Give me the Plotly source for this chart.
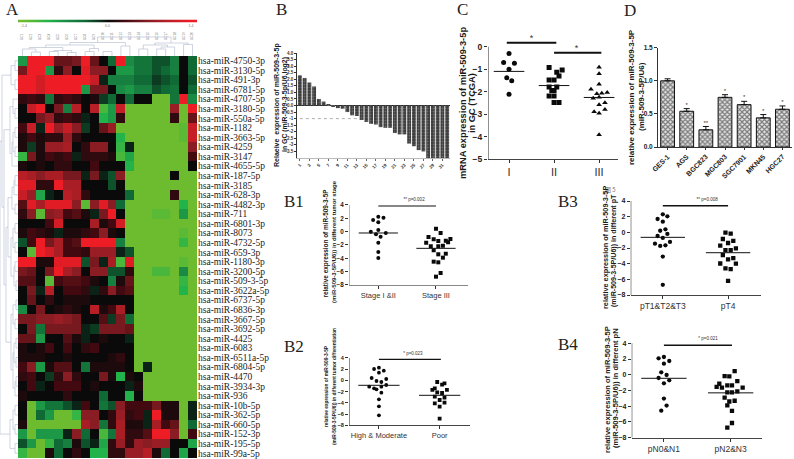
import plotly.graph_objects as go
import numpy as np

W, H = 794, 459

# panel A: heatmap, values x10 (log ratio)
mirna = ["hsa-miR-4750-3p", "hsa-miR-3130-5p", "hsa-miR-491-3p", "hsa-miR-6781-5p", "hsa-miR-4707-5p",
         "hsa-miR-3180-5p", "hsa-miR-550a-5p", "hsa-miR-1182", "hsa-miR-3663-5p", "hsa-miR-4259",
         "hsa-miR-3147", "hsa-miR-4655-5p", "hsa-miR-187-5p", "hsa-miR-3185", "hsa-miR-628-3p",
         "hsa-miR-4482-3p", "hsa-miR-711", "hsa-miR-6801-3p", "hsa-miR-8073", "hsa-miR-4732-5p",
         "hsa-miR-659-3p", "hsa-miR-1180-3p", "hsa-miR-3200-5p", "hsa-miR-509-3-5p", "hsa-miR-3622a-5p",
         "hsa-miR-6737-5p", "hsa-miR-6836-3p", "hsa-miR-3667-5p", "hsa-miR-3692-5p", "hsa-miR-4425",
         "hsa-miR-6083", "hsa-miR-6511a-5p", "hsa-miR-6804-5p", "hsa-miR-4470", "hsa-miR-3934-3p",
         "hsa-miR-936", "hsa-miR-10b-5p", "hsa-miR-362-5p", "hsa-miR-660-5p", "hsa-miR-152-3p",
         "hsa-miR-195-5p", "hsa-miR-99a-5p"]
samples = ["GC%d" % i for i in range(1, 21)]
L = -14  # the saturated light green block
heat_rows = [
    [-8, 14, 14, 14, 5, 5, 6, 14, 5, 0, -4, 14, -7, -5, -5, -3, -3, -6, 0, -4],
    [6, 14, 14, -8, 2, 7, 0, 13, 7, 7, 0, -8, -8, -5, -5, -3, -4, -6, 0, -4],
    [14, 14, 12, 14, 14, 14, 14, 14, 11, -1, -6, -6, -6, -4, -4, -2, -3, -4, 0, -3],
    [14, 14, 12, 14, 14, 14, 14, -8, 6, 6, 0, -7, -8, -6, -6, -3, -4, -5, 0, -4],
    [2, 3, 2, -5, 2, 3, 2, 0, 1, -2, -4, 0, -4, 0, 0, L, L, -5, 14, -7],
    [0, 11, 14, 0, 6, -6, 10, 0, 10, -12, -8, 11, L, L, L, L, L, 8, L, 14],
    [0, 0, 6, 8, 2, 3, 2, -1, 0, -10, -8, 2, L, L, L, L, L, 2, L, 5],
    [3, 11, -1, 14, 8, 11, 7, -2, 0, 5, 8, L, L, L, L, L, L, L, -13, 11],
    [1, 3, 1, 2, 2, 8, 2, 0, 0, 0, 0, -10, L, L, L, L, L, L, -13, 11],
    [1, -2, 1, 8, 8, 9, 0, 2, 7, 7, 0, -11, -1, L, L, L, L, L, L, 7],
    [-11, 6, 1, 3, 2, 3, -1, 2, 2, 2, 1, -12, -9, L, L, L, L, L, L, 3],
    [1, 0, 1, 0, 2, 2, 0, 0, 3, 0, 0, 0, -10, L, L, L, L, L, L, 0],
    [10, 9, 7, 9, 9, 6, 6, -1, 6, -1, -3, 7, L, L, L, L, L, 0, L, L],
    [13, 13, 2, 2, 14, 9, 9, 0, 0, 0, -3, 0, L, L, L, L, L, L, L, L],
    [11, 8, -9, -1, 0, 10, 9, 2, 0, 0, 0, 0, -4, L, L, L, L, 2, L, L],
    [4, 13, 9, 13, 13, 13, 7, -13, 7, 13, 7, -4, L, L, L, L, L, L, -10, L],
    [2, 7, -13, 7, 8, 3, 4, 1, -1, 6, 14, 0, L, L, L, -13, -13, L, -8, L],
    [0, 0, 0, 3, 12, 0, 0, 0, 9, 1, 3, 12, L, L, L, L, L, L, L, L],
    [1, 3, 2, 1, -1, 1, 1, 2, 3, 7, 1, 0, L, L, L, L, L, L, -13, L],
    [-3, 3, 14, 6, 9, 3, 4, 14, 14, 14, 14, -6, L, L, L, L, L, L, -11, L],
    [0, -13, 14, 12, 9, 3, 3, 2, 8, 8, 8, -1, -3, L, L, L, L, L, L, L],
    [14, 14, 1, 1, 13, 13, 13, -3, 6, -1, 9, -12, 13, L, L, L, L, L, -13, L],
    [6, 5, 0, 6, 14, 9, 7, 0, 7, 7, -3, -3, 2, L, L, -12, -12, L, -7, L],
    [4, 4, 0, -13, 3, 4, 4, 3, 1, 0, -6, 1, 5, L, L, L, L, L, -11, L],
    [0, 6, -1, 10, 0, 3, 3, 2, -1, 2, 7, 3, 4, L, L, L, L, L, -10, L],
    [0, 5, 0, 2, 0, 1, 1, 1, 0, 0, 0, 0, 0, L, L, L, L, L, L, L],
    [-7, 0, 6, 0, 1, 2, 1, 0, 10, 1, 3, 9, 0, L, L, L, L, L, L, L],
    [6, 6, 7, 7, 8, 7, 6, 0, 0, 4, -2, 6, -4, L, L, L, L, L, L, L],
    [0, 6, -5, 6, 6, 6, 6, -1, -2, 6, 6, 6, 5, L, L, L, L, L, L, L],
    [5, 5, -8, 0, 0, 4, 1, -1, 0, 1, 0, 0, -1, L, L, L, L, L, L, L],
    [1, 0, 1, 3, 0, 3, 0, 2, 3, 0, 0, 0, 0, L, L, L, L, L, L, L],
    [1, 1, 1, 0, 0, 1, 0, 0, 0, 0, 1, 2, 0, L, L, L, L, L, L, L],
    [3, 7, -8, 1, 4, 4, 0, -5, 1, 1, 1, 1, 0, L, -1, L, L, L, L, L],
    [2, 3, 0, -2, 2, 7, 2, 0, 0, 6, 1, -10, 1, 0, L, L, L, L, L, L],
    [0, 3, -1, 0, 3, 3, 3, 0, 1, 0, 0, 0, -1, 1, L, L, L, L, L, L],
    [1, 0, 0, 0, 0, 2, 0, 0, 0, -4, 0, 0, -10, 0, L, L, L, L, L, L],
    [0, L, -8, -5, -5, -3, -1, 3, 0, -5, -3, 7, 3, 3, 3, 6, 1, 1, L, -1],
    [0, L, -4, -8, L, L, -11, 7, 7, 0, 2, 8, 2, 3, -1, 14, 1, 1, L, -1],
    [1, L, L, L, L, L, L, 9, 7, -5, 2, 9, 1, 1, -1, 9, 3, 5, L, -4],
    [-8, L, -8, -8, -8, -1, 7, -4, 0, -12, -5, 9, 2, 2, 4, 14, 14, 7, L, 3],
    [-3, -8, L, -11, -4, -6, 1, -3, -1, -9, 2, 8, 2, 8, 7, 8, 8, 0, 0, -9],
    [-11, L, L, 1, -4, 0, 2, 0, -10, -10, 2, 2, 8, 8, 10, 1, -4, 0, -9, 0],
]
# colour key under the "A"
key_values = [-14, -12, -10, -8, -6, -4, -2, 0, 2, 4, 6, 8, 10, 12, 14]
key_ticks = [0, 7, 14]
key_text = ["-1.4", "0.0", "1.4"]

# dendrogram merges: (a, b, height, leg a, leg b)
dendro_top = [(2, 3, 4, 0, 0), (1, 2.5, 7, 0, 4), (4, 5, 4.5, 0, 0), (6, 7, 3.5, 0, 0), (4.5, 6.5, 5.5, 4.5, 3.5),
              (1.75, 5.5, 8.5, 7, 5.5), (8, 9, 4.5, 0, 0), (10, 11, 4.5, 0, 0), (8.5, 9.5, 7.5, 4.5, 4.5),
              (3.6, 9, 11, 8.5, 7.5), (12, 13, 10, 0, 0), (6.3, 12.5, 13.5, 11, 10), (14, 15, 7, 0, 0),
              (16, 17, 7, 0, 0), (16.5, 18, 9, 7, 0), (14.5, 17.2, 11, 7, 9), (19, 20, 11.5, 0, 0),
              (15.8, 19.5, 13, 11, 11.5), (9.4, 17.6, 19, 13.5, 13)]
dendro_left = [(1, 2, 3, 0, 0), (3, 4, 3, 0, 0), (1.5, 3.5, 7, 3, 3), (6, 7, 3, 0, 0), (5, 6.5, 5, 0, 3),
               (8, 9, 3, 0, 0), (10, 11, 3, 0, 0), (8.5, 10.5, 5, 3, 3), (9.5, 12, 6, 5, 0), (5.8, 10.7, 8, 5, 6),
               (13, 14, 3, 0, 0), (13.5, 15, 4, 3, 0), (16, 17, 3, 0, 0), (14.2, 16.5, 6, 4, 3), (18, 19, 3, 0, 0),
               (20, 21, 3, 0, 0), (18.5, 20.5, 5, 3, 3), (22, 23, 3, 0, 0), (24, 25, 2, 0, 0), (22.5, 24.5, 4, 3, 2),
               (19.5, 23.5, 7, 5, 4), (15.3, 21.5, 10, 6, 7), (26, 27, 2, 0, 0), (28, 29, 3, 0, 0),
               (26.5, 28.5, 5, 2, 3), (30, 31, 2, 0, 0), (32, 33, 2, 0, 0), (30.5, 32.5, 4, 2, 2), (34, 35, 2, 0, 0),
               (34.5, 36, 3, 2, 0), (31.5, 35.2, 5, 4, 3), (27.5, 33.3, 7, 5, 5), (18.4, 30.4, 12, 10, 7),
               (8.2, 24.4, 14, 8, 12), (2.5, 16.3, 16, 7, 14), (37, 38, 3, 0, 0), (39, 40, 3, 0, 0),
               (37.5, 39.5, 5, 3, 3), (41, 42, 3, 0, 0), (38.5, 41.5, 8, 5, 3), (9.4, 40, 18, 16, 8)]

# panel B: waterfall
waterfall_ids = list(range(1, 33))
waterfall = [2.3, 2.1, 1.75, 1.45, 0.5, 0.3, 0.05, -0.05, -0.2, -0.25, -0.5, -0.75, -0.8, -1.1, -1.25, -1.4,
             -1.45, -1.65, -1.7, -1.7, -2.1, -2.2, -2.2, -2.9, -3.1, -3.4, -3.5, -4, -4, -4, -4, -4]

# panel C: TCGA scatter
tcga_labels = ["I", "II", "III"]
tcga_means = [-1.1, -1.73, -2.26]
tcga_x = [[1, 0.88, 1.12, 1, 0.95, 1.06, 1],
          [1.89, 2.06, 2.18, 1.89, 2.0, 2.11, 1.89, 2.06, 1.95, 2.0, 1.89, 2.0, 2.0, 2.11],
          [3, 3, 3, 2.82, 2.95, 3.06, 3.18, 2.87, 3, 3, 3.13, 2.89, 3, 3.13, 3]]
tcga_y = [[-0.3, -0.7, -0.74, -1.0, -1.38, -1.52, -2.12],
          [-0.93, -1.14, -1.04, -1.48, -1.48, -1.3, -1.8, -1.8, -1.95, -1.95, -2.2, -2.2, -2.49, -2.49],
          [-0.92, -1.2, -1.67, -1.9, -2.1, -2.07, -2.04, -2.3, -2.25, -2.59, -2.5, -2.9, -2.96, -2.8, -3.92]]

# panel D: cell lines
cell_lines = ["GES-1", "AGS", "BGC823", "MGC803", "SGC7901", "MKN45", "HGC27"]
cell_values = [1.0, 0.54, 0.26, 0.75, 0.64, 0.44, 0.57]
cell_errors = [0.03, 0.04, 0.05, 0.04, 0.05, 0.05, 0.05]
cell_stars = ["", "*", "**", "*", "*", "*", "*"]

# panels B1-B4: two group scatter
b1_labels = ["Stage I &II", "Stage III"]
b1_means = [-0.2, -2.5]
b1_x = [[1, 1.09, 0.91, 1, 1, 0.87, 1.13, 0.96, 1.04, 1, 1, 1],
        [2, 2.08, 1.87, 2.25, 1.96, 2.17, 2.04, 2.21, 1.83, 1.91, 2.04, 2.12, 1.96, 2.04, 2.17, 2.12, 1.96, 2.04, 2.08, 2]]
b1_y = [[2.25, 2.1, 1.75, 1.4, 0.25, 0, -0.2, -0.4, -0.75, -1.65, -3.05, -3.95],
        [0.45, -0.2, -0.8, -1.1, -1.15, -1.35, -1.4, -1.6, -1.65, -2.2, -2.2, -2.1, -2.8, -3.4, -3.3, -3.9, -4.5, -4.6, -6.2, -6.75]]

b2_labels = ["High & Moderate", "Poor"]
b2_means = [-0.87, -2.65]
b2_x = [[1, 0.92, 1.08, 1, 0.88, 1.12, 0.96, 1.04, 1.12, 0.84, 0.92, 0.96, 1.04, 1.04, 1, 1, 1],
        [1.96, 2.08, 2.04, 1.92, 1.88, 2.12, 1.96, 2.04, 1.92, 2.08, 2, 1.92, 2.08, 2, 2]]
b2_y = [[2.28, 2.04, 1.74, 1.39, 0.43, 0.26, -0.1, -0.28, -0.81, -1.11, -1.4, -1.59, -1.11, -2.18, -3.37, -4.62, -6.22],
        [-0.28, -0.52, -0.75, -1.41, -1.7, -1.7, -2.12, -2.24, -2.89, -3.07, -3.49, -4.08, -3.96, -4.67, -6.81]]

b3_labels = ["pT1&T2&T3", "pT4"]
b3_means = [-0.64, -2.6]
b3_x = [[1, 1.07, 0.92, 1, 1.04, 0.96, 1.07, 0.92, 1, 1.11, 0.88, 0.96, 1.04, 1, 1],
        [1.96, 2.04, 1.92, 2.08, 2, 1.88, 2.12, 1.96, 2.04, 1.92, 2, 2.08, 1.88, 2.12, 1.96, 2.04, 2]]
b3_y = [[2.3, 2.04, 1.7, 1.36, 0.38, 0.2, -0.2, -0.47, -0.72, -1.23, -1.45, -1.74, -1.66, -3.1, -6.7],
        [-0.04, -0.17, -0.85, -1.1, -1.36, -1.7, -2.04, -2.26, -2.26, -2.9, -3.45, -3.3, -3.98, -4, -4.6, -4.7, -6.2]]

b4_labels = ["pN0&N1", "pN2&N3"]
b4_means = [-0.45, -2.3]
b4_x = [[1, 0.92, 1.08, 1, 0.96, 1.04, 0.92, 1.08, 1, 1, 1.04, 0.96],
        [2.06, 1.91, 1.98, 2.1, 1.83, 1.79, 1.87, 1.95, 2.02, 2.18, 1.95, 2.02, 2.1, 1.91, 1.98, 2.06, 1.95, 2.02, 2.02, 1.95]]
b4_y = [[2.26, 2.09, 1.75, 1.41, 0.31, -0.03, -0.41, -0.7, -1.09, -3.03, -3.92, -4.56],
        [0.47, -0.17, -0.21, -0.8, -1.14, -1.55, -1.64, -1.35, -1.35, -1.64, -2.23, -2.23, -2.1, -2.9, -3.4, -3.3, -3.9, -4.6, -6.13, -6.72]]

SANS = "Liberation Sans"
SERIF = "Liberation Serif"
GREEN_RED = [[0, "#6dbb2e"], [0.143, "#22b34a"], [0.25, "#1b8a45"], [0.357, "#0f6a35"], [0.43, "#0c3a22"],
             [0.5, "#0a0a0a"], [0.607, "#420a10"], [0.75, "#8a1c24"], [0.857, "#b81e26"], [1, "#ee1c25"]]

fig = go.Figure()
axis_count = 0


# axes placed by their pixel box in the page
def add_axes(left, right, top, bottom, xopts, yopts):
    global axis_count
    axis_count += 1
    n = "" if axis_count == 1 else str(axis_count)
    fig.layout["xaxis" + n] = dict(domain=[left / W, right / W], anchor="y" + n, **xopts)
    fig.layout["yaxis" + n] = dict(domain=[1 - bottom / H, 1 - top / H], anchor="x" + n, **yopts)
    return "x" + n, "y" + n


def note(x, y, text, size=6, rot=0, bold=False, family=SANS, color="#1a1a1a"):
    fig.add_annotation(x=x / W, y=1 - y / H, xref="paper", yref="paper", text=text, showarrow=False,
                       textangle=rot, xanchor="center", yanchor="middle",
                       font=dict(family=family, size=size, color=color, weight="bold" if bold else "normal"))


def dendro_lines(merges):
    a, b = [], []
    for p, q, h, ha, hb in merges:
        a += [p, p, q, q, None]
        b += [ha, h, h, hb, None]
    return a, b


# panel A
xa, ya = add_axes(18, 197, 56, 458,
                  dict(range=[-0.5, 19.5], side="top", tickangle=-90, ticklen=0, ticklabelstandoff=15,
                       tickfont=dict(size=3, color="#777", family=SANS), showgrid=False, zeroline=False,
                       tickmode="array", tickvals=list(range(20)), ticktext=samples),
                  dict(range=[41.5, -0.5], side="right", ticklen=0, tickmode="array", tickvals=list(range(42)),
                       ticktext=mirna, tickfont=dict(size=9.5, family=SERIF, color="#222"),
                       showgrid=False, zeroline=False))
fig.add_trace(go.Heatmap(z=(np.array(heat_rows) / 10).tolist(), xaxis=xa, yaxis=ya, zmin=-1.4, zmax=1.4,
                         colorscale=GREEN_RED, showscale=False))

xk, yk = add_axes(18, 197, 19.5, 22.5,
                  dict(range=[-0.5, 14.5], side="bottom", tickmode="array", tickvals=key_ticks, ticktext=key_text,
                       ticklen=0, tickfont=dict(size=3.5, color="#777", family=SANS), showgrid=False, zeroline=False),
                  dict(visible=False))
fig.add_trace(go.Heatmap(z=[key_values], xaxis=xk, yaxis=yk, zmin=-14, zmax=14, colorscale=GREEN_RED,
                         showscale=False, zsmooth="best"))

xd, yd = add_axes(18, 197, 34, 56, dict(range=[0.5, 20.5], visible=False), dict(range=[0, 22], visible=False))
dx, dy = dendro_lines(dendro_top)
fig.add_trace(go.Scatter(x=dx, y=dy, xaxis=xd, yaxis=yd, mode="lines", line=dict(color="#b9c1d2", width=0.7), hoverinfo="skip"))
xd, yd = add_axes(0, 18, 56, 458, dict(range=[18, 0], visible=False), dict(range=[42.5, 0.5], visible=False))
dy, dx = dendro_lines(dendro_left)
fig.add_trace(go.Scatter(x=dx, y=dy, xaxis=xd, yaxis=yd, mode="lines", line=dict(color="#b9c1d2", width=0.7), hoverinfo="skip"))

# panel B
b_ticks = [4, 3.5, 3, 2.5, 2, 1.5, 1, 0.5, 0, -0.5, -1, -1.5, -2, -2.5, -3, -3.5]
b_ticktext = ["4.0", "3.5", "3.0", "2.5", "2.0", "1.5", "1.0", "0.5", "0.0", "0.5", "-1", "1.5", "-2", "2.5", "-3", "3.5"]
xb, yb = add_axes(297, 450, 53, 158,
                  dict(range=[0.4, 32.6], tickmode="array", tickvals=waterfall_ids[::2], tickangle=-45, ticks="outside",
                       ticklen=2, tickwidth=0.7, tickcolor="#666", tickfont=dict(size=4.5, family=SANS, color="#333", weight="bold"),
                       showline=True, linecolor="#bbb", linewidth=0.5, showgrid=False, zeroline=False),
                  dict(range=[-4, 4], tickmode="array", tickvals=b_ticks, ticktext=b_ticktext, ticks="outside",
                       ticklen=2, tickwidth=0.7, tickcolor="#333", tickfont=dict(size=4.5, family=SANS, color="#333", weight="bold"),
                       showline=True, linecolor="#333", linewidth=0.7, showgrid=False, zeroline=True,
                       zerolinecolor="#222", zerolinewidth=1))
fig.add_trace(go.Bar(x=waterfall_ids, y=waterfall, xaxis=xb, yaxis=yb, width=0.82,
                     marker=dict(color="#4a4a4a", line=dict(width=0),
                                 pattern=dict(shape=".", fgcolor="#9a9a9a", bgcolor="#3c3c3c", size=3, solidity=0.3))))
fig.add_trace(go.Scatter(x=[waterfall_ids[0], waterfall_ids[12]], y=[-1, -1], xaxis=xb, yaxis=yb, mode="lines",
                         line=dict(color="#999", width=0.8, dash="dot")))
note(277, 105, "Relaeive  expression of miR-509-3-5p", 7, -90, True)
note(285, 105, "in GC (miR-509-3-5p/U6,log2)", 6.9, -90, True)


def star_bar(xa_, ya_, x0, x1, y, text, text_x, text_y, size=8, width=2):
    fig.add_trace(go.Scatter(x=[x0, x1], y=[y, y], xaxis=xa_, yaxis=ya_, mode="lines", line=dict(color="#111", width=width)))
    fig.add_trace(go.Scatter(x=[text_x], y=[text_y], xaxis=xa_, yaxis=ya_, mode="text", text=[text],
                             textfont=dict(size=size, family=SANS, color="#333")))


# panels C and B1-B4 share one scatter style; head is extra room above the axis for the p value bar
def scatter_panel(box, xrange, yrange, head, ticks, labels, xs, ys, means, tick_size, label_size, marker_size, line_color="#444"):
    unit = (box[3] - box[2]) / (yrange[1] - yrange[0])
    xa_, ya_ = add_axes(box[0], box[1], box[2] - head * unit, box[3],
                        dict(range=xrange, tickmode="array", tickvals=list(range(1, len(labels) + 1)), ticktext=labels,
                             ticks="outside", ticklen=3, tickwidth=1, tickcolor="#333", showline=True, linecolor=line_color,
                             linewidth=1.2, showgrid=False, zeroline=False,
                             tickfont=dict(size=label_size, family=SANS, color="#333")),
                        dict(range=[yrange[0], yrange[1] + head], tickmode="array", tickvals=ticks, ticks="outside", ticklen=3,
                             tickwidth=1, tickcolor="#333", showline=False, showgrid=False,
                             zeroline=False, tickfont=dict(size=tick_size, family=SANS, color="#222", weight="bold")))
    fig.add_trace(go.Scatter(x=[xrange[0], xrange[0]], y=yrange, xaxis=xa_, yaxis=ya_, mode="lines", cliponaxis=False,
                             line=dict(color=line_color, width=1.2)))
    symbols = ["circle", "square", "triangle-up"]
    for i, (gx, gy) in enumerate(zip(xs, ys)):
        fig.add_trace(go.Scatter(x=gx, y=gy, xaxis=xa_, yaxis=ya_, mode="markers",
                                 marker=dict(symbol=symbols[i], size=marker_size, color="#0a0a0a", line=dict(width=0))))
        fig.add_trace(go.Scatter(x=[i + 1 - 0.34, i + 1 + 0.34], y=[means[i], means[i]], xaxis=xa_, yaxis=ya_, mode="lines",
                                 line=dict(color="#111", width=1)))
    return xa_, ya_


eight_ticks = [4, 2, 0, -2, -4, -6, -8]

# C
xc, yc = scatter_panel((488, 618, 46.7, 159), [0.533, 3.42], [-5, 0], 0.6, [0, -1, -2, -3, -4, -5], tcga_labels,
                       tcga_x, tcga_y, tcga_means, 8.5, 11, 5)
star_bar(xc, yc, 0.95, 2.05, 0.18, "*", 1.5, 0.36, 9)
star_bar(xc, yc, 2.0, 3.05, -0.27, "*", 2.5, -0.08, 9)
note(463, 103, "mRNA expression of miR-509-3-5p", 9.3, -90, True)
note(472, 103, "in GC (TCGA)", 9.3, -90, True)

# D
xd2, yd2 = add_axes(658, 792, 47.7, 147,
                    dict(range=[-0.5, 6.5], tickmode="array", tickvals=list(range(7)), ticktext=cell_lines, tickangle=-45,
                         ticks="outside", ticklen=2, tickwidth=0.8, tickcolor="#333", showline=True, linecolor="#333",
                         linewidth=1, showgrid=False, zeroline=False,
                         tickfont=dict(size=7, family=SANS, color="#222", weight="bold")),
                    dict(range=[0, 1.5], tickmode="array", tickvals=[0, 0.5, 1, 1.5], ticktext=["0.0", "0.5", "1.0", "1.5"],
                         ticks="outside", ticklen=3, tickwidth=0.8, tickcolor="#333", showline=True, linecolor="#333",
                         linewidth=1, showgrid=False, zeroline=False,
                         tickfont=dict(size=6.5, family=SANS, color="#222", weight="bold")))
fig.add_trace(go.Bar(x=list(range(7)), y=cell_values, xaxis=xd2, yaxis=yd2, width=0.72,
                     error_y=dict(type="data", symmetric=False, array=cell_errors, arrayminus=[0] * 7, color="#111", thickness=1, width=3),
                     marker=dict(color="white", line=dict(color="#111", width=1),
                                 pattern=dict(shape="x", fgcolor="#111", bgcolor="#e8e8e8", size=3.5, solidity=0.6))))
fig.add_trace(go.Scatter(x=list(range(7)), y=[v + e + 0.05 for v, e in zip(cell_values, cell_errors)], xaxis=xd2, yaxis=yd2,
                         mode="text", text=cell_stars, textfont=dict(size=6, family=SANS, color="#333")))
note(631, 97, "relative expression of miR-509-3-5P", 8, -90, True)
note(641, 97, "(miR-509-3-5P/U6)", 8, -90, True)
note(610, 189, "图 5", 6, 0, False, "Noto Sans CJK SC", "#777")

# B1
x1, y1 = scatter_panel((349, 468, 205, 285), [0.492, 2.555], [-8, 4], 1.4, eight_ticks, b1_labels, b1_x, b1_y, b1_means, 6.3, 7.5, 4, "#888")
star_bar(x1, y1, 1, 2, 3.85, "** p=0.002", 1.62, 4.75, 4.5, 1.2)
note(326, 243.5, "relative expression of miR-509-3-5P", 6.4, -90, True)
note(334, 242, "(miR-509-3-5P/U6)) in different tumor stage", 6, -90, True)

# B2
x2, y2 = scatter_panel((349, 470, 358, 425.3), [0.507, 2.5], [-8, 4], 1.4, eight_ticks, b2_labels, b2_x, b2_y, b2_means, 5.6, 7.5, 3.8)
star_bar(x2, y2, 1, 2.02, 3.76, "* p=0.023", 1.56, 4.7, 4.5, 1.2)
note(326, 386, "relative expression of miR-509-3-5P", 4.8, -90, True)
note(334, 387, "(miR-509-3-5P/U6)) in different tumor differentiation", 4.8, -90, True)

# B3
x3, y3 = scatter_panel((630.7, 760.7, 201, 295), [0.508, 2.5], [-8, 4], 1.4, eight_ticks, b3_labels, b3_x, b3_y, b3_means, 7, 8.5, 4.3)
star_bar(x3, y3, 1, 2, 3.4, "** p=0.008", 1.68, 4.2, 4.5, 1.4)
note(605, 248, "relative expression of miR-509-3-5P", 7.3, -90, True)
note(614, 251, "(miR-509-3-5P/U6)) in different pT", 7.1, -90, True)

# B4
x4, y4 = scatter_panel((631.7, 762, 343.3, 437.7), [0.517, 2.47], [-8, 4], 1.4, eight_ticks, b4_labels, b4_x, b4_y, b4_means, 7, 8.5, 4.3)
star_bar(x4, y4, 1, 2.02, 3.75, "* p=0.021", 1.66, 4.5, 4.5, 1.4)
note(607, 390, "relative expression of miR-509-3-5P", 7.5, -90, True)
note(615, 388, "(miR-509-3-5P/U6)) in different pN", 7.5, -90, True)

# panel letters
for px, py, letter in [(12, 10, "A"), (281, 10, "B"), (462, 10, "C"), (630, 11, "D"),
                       (294, 202, "B1"), (294, 346, "B2"), (568, 202, "B3"), (568, 344, "B4")]:
    note(px, py, letter, 17, 0, False, SERIF, "#222")

fig.update_layout(width=W, height=H, margin=dict(l=0, r=0, t=0, b=0, autoexpand=False), paper_bgcolor="white",
                  plot_bgcolor="white", showlegend=False, barmode="overlay")

fig.write_html("out.html", config={"displayModeBar": False}, post_script="document.body.style.margin='0';")
